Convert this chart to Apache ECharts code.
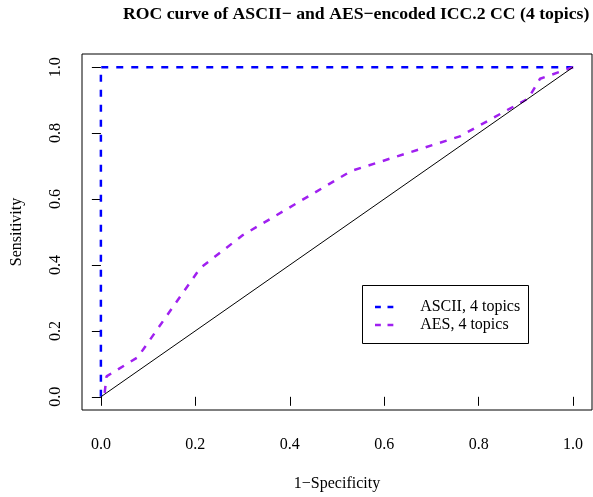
<!DOCTYPE html>
<html>
<head>
<meta charset="utf-8">
<script src="https://cdn.jsdelivr.net/npm/echarts@6/dist/echarts.min.js"></script>
<style>html,body{margin:0;padding:0;background:#fff}#c{width:593px;height:497px}</style>
</head>
<body>
<div id="c"></div>
<script>
// ---- data ----
var titleText = 'ROC curve of ASCII\u2212 and AES\u2212encoded ICC.2 CC (4 topics)';
var xName = '1\u2212Specificity';
var yName = 'Sensitivity';
var tickValues = [0, 0.2, 0.4, 0.6, 0.8, 1.0];
var tickLabels = ['0.0', '0.2', '0.4', '0.6', '0.8', '1.0'];
var seriesNames = ['ASCII, 4 topics', 'AES, 4 topics'];
var asciiFpr = [0, 0, 1];
var asciiTpr = [0, 1, 1];
var aesFpr = [0.008, 0.012, 0.078, 0.21, 0.30, 0.53, 0.76, 0.905, 0.93, 1.0];
var aesTpr = [0.012, 0.062, 0.12, 0.39, 0.49, 0.685, 0.79, 0.905, 0.965, 1.0];
var diagX = [0, 1];
var diagY = [0, 1];

function pairs(xs, ys) { return xs.map(function (x, i) { return [x, ys[i]]; }); }

var FONT = '"Liberation Serif", "DejaVu Serif", serif';
var dashIcon = 'path://M0,0h7v3H0z M15,0h7v3h-7z';
var chart = echarts.init(document.getElementById('c'), null, {renderer: 'canvas'});
chart.setOption({
  animation: false,
  backgroundColor: '#fff',
  textStyle: {fontFamily: FONT},
  grid: {left: 82, top: 54, right: 1, bottom: 82, show: true, borderColor: '#000', borderWidth: 1, backgroundColor: 'transparent', containLabel: false},
  graphic: [
    {type: 'text', left: 123, top: 5, style: {text: titleText, font: 'bold 17.7px ' + FONT, fill: '#000'}},
    {type: 'rect', shape: {x: 362.5, y: 285.5, width: 166, height: 58}, style: {fill: '#fff', stroke: '#000', lineWidth: 1}, z: 10}
  ],
  legend: {
    left: 375, top: 299, orient: 'vertical', itemWidth: 22, itemHeight: 2.5, itemGap: 2, padding: 0, z: 20,
    data: [{name: seriesNames[0], icon: dashIcon}, {name: seriesNames[1], icon: dashIcon}],
    textStyle: {fontFamily: FONT, fontSize: 16, color: '#000', lineHeight: 3, padding: [0, 0, 0, 20]}
  },
  xAxis: {
    type: 'value', min: -0.04, max: 1.04,
    name: xName, nameLocation: 'middle', nameGap: 66,
    nameTextStyle: {fontFamily: FONT, fontSize: 16, color: '#000'},
    axisLine: {show: false},
    splitLine: {show: false},
    axisTick: {show: true, inside: false, length: 9, customValues: tickValues, lineStyle: {color: '#000', width: 1}},
    axisLabel: {customValues: tickValues, margin: 27, fontFamily: FONT, fontSize: 16, color: '#000',
      formatter: function (v) { var i = tickValues.indexOf(v); return i >= 0 ? tickLabels[i] : ''; }}
  },
  yAxis: {
    type: 'value', min: -0.04, max: 1.04,
    name: yName, nameLocation: 'middle', nameGap: 57,
    nameTextStyle: {fontFamily: FONT, fontSize: 16, color: '#000'},
    axisLine: {show: false},
    splitLine: {show: false},
    axisTick: {show: true, inside: false, length: 9, customValues: tickValues, lineStyle: {color: '#000', width: 1}},
    axisLabel: {customValues: tickValues, rotate: 90, margin: 18, fontFamily: FONT, fontSize: 16, color: '#000',
      formatter: function (v) { var i = tickValues.indexOf(v); return i >= 0 ? tickLabels[i] : ''; }}
  },
  series: [
    {name: seriesNames[0], type: 'line', data: pairs(asciiFpr, asciiTpr), showSymbol: false, symbol: 'none', clip: true,
      lineStyle: {color: '#0000FF', width: 2.5, type: [7, 8]}, itemStyle: {color: '#0000FF'}},
    {name: seriesNames[1], type: 'line', data: pairs(aesFpr, aesTpr), showSymbol: false, symbol: 'none', clip: true,
      lineStyle: {color: '#A020F0', width: 2.5, type: [7, 8]}, itemStyle: {color: '#A020F0'}},
    {name: 'diag', type: 'line', data: pairs(diagX, diagY), showSymbol: false, symbol: 'none', clip: true,
      lineStyle: {color: '#000', width: 1, type: 'solid'}, itemStyle: {color: '#000'}}
  ]
});
</script>
</body>
</html>
